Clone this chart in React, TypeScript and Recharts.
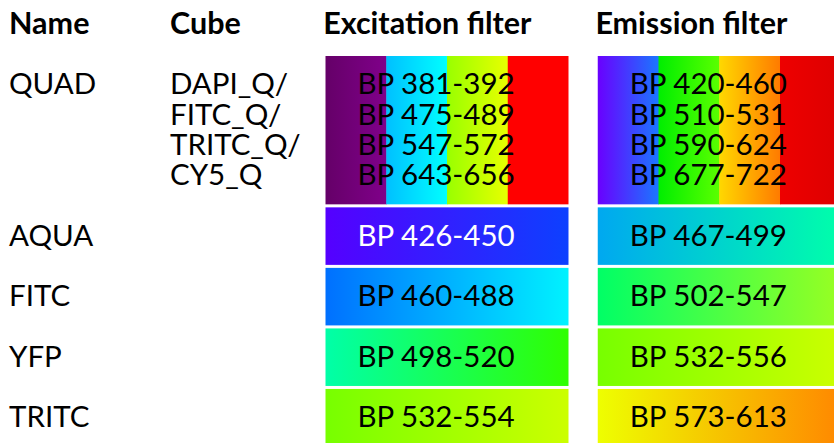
import React from "react";
import { BarChart, Bar, XAxis, YAxis } from "recharts";

const headerTitles = ["Name", "Cube"];
const columnTitles = ["Excitation filter", "Emission filter"];
const rowNames = ["QUAD", "AQUA", "FITC", "YFP", "TRITC"];
const cubeNames = [["DAPI_Q/", "FITC_Q/", "TRITC_Q/", "CY5_Q"], [], [], [], []];
const excitationFilters = [
  ["BP 381-392", "BP 475-489", "BP 547-572", "BP 643-656"],
  ["BP 426-450"],
  ["BP 460-488"],
  ["BP 498-520"],
  ["BP 532-554"],
];
const emissionFilters = [
  ["BP 420-460", "BP 510-531", "BP 590-624", "BP 677-722"],
  ["BP 467-499"],
  ["BP 502-547"],
  ["BP 532-556"],
  ["BP 573-613"],
];
const excitationColors = [
  [["#650068", "#80008a"], ["#00c0ff", "#00ffff"], ["#99ff00", "#e8ff00"], ["#ff0000", "#ff0000"]],
  [["#5500ff", "#0d40ff"]],
  [["#0070ff", "#00f2ff"]],
  [["#00ffa8", "#30ff00"]],
  [["#77ff00", "#ccff00"]],
];
const emissionColors = [
  [["#6a00ff", "#1a78ff"], ["#00ee00", "#5aff00"], ["#ffd800", "#ff7a00"], ["#ee0000", "#dd0000"]],
  [["#00a8f0", "#00ffaa"]],
  [["#00ff66", "#99ff22"]],
  [["#77ff00", "#ccff00"]],
  [["#eeff00", "#ff8800"]],
];
const excitationTextColors = ["#000", "#fff", "#000", "#000", "#000"];
const emissionTextColors = ["#000", "#000", "#000", "#000", "#000"];

const FONT = "Lato";
const FONT_SIZE = 29.5;
const HEADER_SIZE = 30.5;
const BAR_SIZE = 243;
const CELL_GAP = 3;
const TEXT_INDENT = 32;
const BASELINE_SHIFT = 9.5;
const HEADER_X = [9, 170];
const HEADER_BASELINE = 34;

const filtersFor = (col: number) => (col === 0 ? excitationFilters : emissionFilters);
const colorsFor = (col: number) => (col === 0 ? excitationColors : emissionColors);
const textColorsFor = (col: number) => (col === 0 ? excitationTextColors : emissionTextColors);

const rowUnits = rowNames.map((_, i) => Math.max(excitationFilters[i].length, emissionFilters[i].length) + 1);
const rowStarts: number[] = [];
rowUnits.reduce((acc, u, i) => {
  rowStarts[i] = acc;
  return acc + u;
}, 0);
const totalUnits = rowUnits.reduce((a, b) => a + b, 0);

const lineTicks: { value: number; row: number; line: number }[] = [];
rowNames.forEach((_, r) => {
  for (let k = 0; k < rowUnits[r] - 1; k++) {
    lineTicks.push({ value: rowStarts[r] + 1 + k, row: r, line: k });
  }
});

const chartData = columnTitles.map((title) => {
  const o: any = { column: title };
  rowNames.forEach((r, i) => {
    o[r] = rowUnits[i];
  });
  return o;
});

function renderCell(p: any, row: number) {
  const col = p.index;
  const filters = filtersFor(col)[row];
  const colors = colorsFor(col)[row];
  const top = Math.min(p.y, p.y + p.height);
  const H = Math.abs(p.height);
  const u = H / rowUnits[row];
  const sw = p.width / colors.length;
  return (
    <g>
      <defs>
        {colors.map((c: string[], k: number) => (
          <linearGradient key={k} id={`g-${col}-${row}-${k}`} x1="0" y1="0" x2="1" y2="0">
            <stop offset="0%" stopColor={c[0]} />
            <stop offset="100%" stopColor={c[1]} />
          </linearGradient>
        ))}
      </defs>
      {colors.map((c: string[], k: number) => (
        <rect
          key={k}
          x={p.x + k * sw}
          y={top + CELL_GAP / 2}
          width={sw + (k < colors.length - 1 ? 0.5 : 0)}
          height={H - CELL_GAP}
          fill={`url(#g-${col}-${row}-${k})`}
        />
      ))}
      {filters.map((t: string, k: number) => (
        <text
          key={t}
          x={p.x + TEXT_INDENT}
          y={top + u * (1 + k) + BASELINE_SHIFT}
          fontFamily={FONT}
          fontSize={FONT_SIZE}
          fill={textColorsFor(col)[row]}
        >
          {t}
        </text>
      ))}
    </g>
  );
}

const YTick = (props: any) => {
  const { y, payload } = props;
  const entry = lineTicks.find((t) => Math.abs(t.value - payload.value) < 1e-6);
  if (!entry) return null;
  const cube = cubeNames[entry.row][entry.line];
  return (
    <g>
      {entry.line === 0 && (
        <text x={9} y={y + BASELINE_SHIFT} fontFamily={FONT} fontSize={FONT_SIZE} fill="#000">
          {rowNames[entry.row]}
        </text>
      )}
      {cube && (
        <text x={170} y={y + BASELINE_SHIFT} fontFamily={FONT} fontSize={FONT_SIZE} fill="#000">
          {cube}
        </text>
      )}
    </g>
  );
};

const XTick = (props: any) => {
  const { x, payload } = props;
  return (
    <text
      x={x - BAR_SIZE / 2 - 2}
      y={HEADER_BASELINE}
      fontFamily={FONT}
      fontSize={HEADER_SIZE}
      fontWeight={700}
      fill="#000"
    >
      {payload.value}
    </text>
  );
};

const LeftHeaders = () => (
  <g>
    {headerTitles.map((t, i) => (
      <text
        key={t}
        x={HEADER_X[i]}
        y={HEADER_BASELINE}
        fontFamily={FONT}
        fontSize={HEADER_SIZE}
        fontWeight={700}
        fill="#000"
      >
        {t}
      </text>
    ))}
  </g>
);

export default function App() {
  return (
    <div
      style={{
        position: "absolute",
        left: 0,
        top: 0,
        width: 834,
        height: 443,
        overflow: "hidden",
        background: "#fff",
      }}
    >
      <BarChart
        width={855}
        height={448}
        data={chartData}
        margin={{ top: 0, right: 0, bottom: 0, left: 0 }}
        barSize={BAR_SIZE}
      >
        <XAxis
          dataKey="column"
          type="category"
          orientation="top"
          height={54.5}
          axisLine={false}
          tickLine={false}
          tickSize={0}
          tickMargin={0}
          tick={<XTick />}
          interval={0}
        />
        <YAxis
          type="number"
          domain={[0, totalUnits]}
          reversed
          ticks={lineTicks.map((t) => t.value)}
          interval={0}
          width={310.5}
          axisLine={false}
          tickLine={false}
          tickSize={0}
          tick={<YTick />}
          label={{ content: () => <LeftHeaders /> }}
        />
        {rowNames.map((r, i) => (
          <Bar
            key={r}
            dataKey={r}
            stackId="rows"
            isAnimationActive={false}
            shape={(p: any) => renderCell(p, i)}
          />
        ))}
      </BarChart>
    </div>
  );
}
